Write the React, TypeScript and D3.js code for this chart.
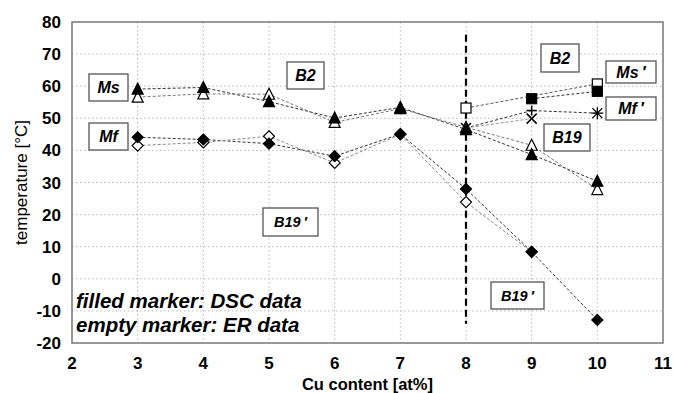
import React from "react";
import * as d3 from "d3";

// Cu content categories and measured transformation temperatures
const cuContent = [3, 4, 5, 6, 7, 8, 9, 10];
const msDSC = [59.1, 59.6, 55.2, 50.1, 53.4, 46.5, 38.7, 30.4];
const msER = [56.6, 57.6, 57.5, 48.7, 53.0, 47.2, 41.6, 27.8];
const mfDSC = [44.1, 43.4, 42.1, 38.2, 45.1, 28.0, 8.4, -12.8];
const mfER = [41.5, 42.5, 44.4, 36.1, 45.0, 23.9, 8.4];

const msPrimeDSCx = [9, 10];
const msPrimeDSC = [56.1, 58.4];
const msPrimeERx = [8, 10];
const msPrimeER = [53.2, 60.7];
const mfPrimeAx = [8, 9, 10];
const mfPrimeA = [47.0, 52.4, 51.6];
const mfPrimeBx = [8, 9];
const mfPrimeB = [47.0, 49.9];

const xTicks = [2, 3, 4, 5, 6, 7, 8, 9, 10, 11];
const yTicks = [-20, -10, 0, 10, 20, 30, 40, 50, 60, 70, 80];

const W = 673;
const H = 393;
const m = { left: 72, right: 663, top: 22, bottom: 343 };

type Pt = { x: number; y: number };
const zip = (xs: number[], ys: number[]): Pt[] => ys.map((y, i) => ({ x: xs[i], y }));

const App: React.FC = () => {
  const x = d3.scaleLinear().domain([2, 11]).range([m.left, m.right]);
  const y = d3.scaleLinear().domain([-20, 80]).range([m.bottom, m.top]);
  const line = d3.line<Pt>().x((d) => x(d.x)).y((d) => y(d.y));
  const font = "'Liberation Sans', Arial, sans-serif";

  const tri = (d: Pt, filled: boolean, k: string) => {
    const cx = x(d.x), cy = y(d.y);
    return (
      <path key={k} d={`M${cx},${cy - 6}L${cx + 5.5},${cy + 5}L${cx - 5.5},${cy + 5}Z`}
        fill={filled ? "#000" : "#fff"} stroke="#000" strokeWidth={1.2} />
    );
  };
  const dia = (d: Pt, filled: boolean, k: string) => {
    const cx = x(d.x), cy = y(d.y);
    return (
      <path key={k} d={`M${cx},${cy - 5.5}L${cx + 5.5},${cy}L${cx},${cy + 5.5}L${cx - 5.5},${cy}Z`}
        fill={filled ? "#000" : "#fff"} stroke="#000" strokeWidth={1.2} />
    );
  };
  const sq = (d: Pt, filled: boolean, k: string) => {
    const cx = x(d.x), cy = y(d.y);
    return (
      <rect key={k} x={cx - 5} y={cy - 5} width={10} height={10}
        fill={filled ? "#000" : "#fff"} stroke="#000" strokeWidth={1.2} />
    );
  };
  const cross = (d: Pt, k: string) => {
    const cx = x(d.x), cy = y(d.y);
    return (
      <path key={k} d={`M${cx - 5},${cy - 5}L${cx + 5},${cy + 5}M${cx + 5},${cy - 5}L${cx - 5},${cy + 5}`}
        stroke="#000" strokeWidth={1.5} fill="none" />
    );
  };
  const plus = (d: Pt, k: string) => {
    const cx = x(d.x), cy = y(d.y);
    return (
      <path key={k} d={`M${cx - 5},${cy}L${cx + 5},${cy}M${cx},${cy - 5}L${cx},${cy + 5}`}
        stroke="#000" strokeWidth={1.5} fill="none" />
    );
  };
  const star = (d: Pt, k: string) => {
    const cx = x(d.x), cy = y(d.y);
    return (
      <path key={k}
        d={`M${cx - 5},${cy - 5}L${cx + 5},${cy + 5}M${cx + 5},${cy - 5}L${cx - 5},${cy + 5}M${cx},${cy - 6}L${cx},${cy + 6}M${cx - 6},${cy}L${cx + 6},${cy}`}
        stroke="#000" strokeWidth={1.3} fill="none" />
    );
  };

  const ms1 = zip(cuContent, msDSC);
  const ms2 = zip(cuContent, msER);
  const mf1 = zip(cuContent, mfDSC);
  const mf2 = zip(cuContent, mfER);
  const mp1 = zip(msPrimeDSCx, msPrimeDSC);
  const mp2 = zip(msPrimeERx, msPrimeER);
  const fa = zip(mfPrimeAx, mfPrimeA);
  const fb = zip(mfPrimeBx, mfPrimeB);

  const box = (label: string, x0: number, y0: number, w: number, h: number, size: number) => (
    <g key={label + x0}>
      <rect x={x0} y={y0} width={w} height={h} fill="#fff" stroke="#555" strokeWidth={1.3} />
      <text x={x0 + w / 2} y={y0 + h / 2 + size * 0.36} textAnchor="middle" fontSize={size}
        fontWeight="bold" fontStyle="italic" fontFamily={font}>{label}</text>
    </g>
  );

  return (
    <svg width={W} height={H} style={{ position: "absolute", left: 0, top: 0, background: "#fff" }}>
      {/* grid */}
      {yTicks.slice(1, -1).map((t) => (
        <line key={"gy" + t} x1={m.left} x2={m.right} y1={y(t)} y2={y(t)} stroke="#bbb" strokeDasharray="1.5,2.5" />
      ))}
      {xTicks.slice(1, -1).map((t) => (
        <line key={"gx" + t} y1={m.top} y2={m.bottom} x1={x(t)} x2={x(t)} stroke="#bbb" strokeDasharray="1.5,2.5" />
      ))}
      <rect x={m.left} y={m.top} width={m.right - m.left} height={m.bottom - m.top} fill="none" stroke="#777" strokeWidth={1.5} />

      {/* tick labels */}
      {yTicks.map((t) => (
        <text key={"ty" + t} x={61} y={y(t) + 6} textAnchor="end" fontSize={17} fontWeight="bold" fontFamily={font}>{t}</text>
      ))}
      {xTicks.map((t) => (
        <text key={"tx" + t} x={x(t)} y={369} textAnchor="middle" fontSize={17} fontWeight="bold" fontFamily={font}>{t}</text>
      ))}
      <text x={(m.left + m.right) / 2} y={390} textAnchor="middle" fontSize={16.5} fontWeight="bold" fontFamily={font}>Cu content [at%]</text>
      <text transform={`translate(27,${(m.top + m.bottom) / 2}) rotate(-90)`} textAnchor="middle" fontSize={17} fontFamily={font}>temperature [°C]</text>

      {/* phase boundary */}
      <line x1={x(8)} x2={x(8)} y1={y(76)} y2={y(-14)} stroke="#000" strokeWidth={2.2} strokeDasharray="7,4" />

      {/* series lines */}
      <g fill="none" strokeWidth={1} strokeDasharray="3,2">
        <path d={line(ms1) ?? ""} stroke="#333" />
        <path d={line(ms2) ?? ""} stroke="#777" />
        <path d={line(mf1) ?? ""} stroke="#333" />
        <path d={line(mf2) ?? ""} stroke="#888" />
        <path d={line(mp1) ?? ""} stroke="#333" />
        <path d={line(mp2) ?? ""} stroke="#555" />
        <path d={line(fa) ?? ""} stroke="#333" />
        <path d={line(fb) ?? ""} stroke="#999" />
      </g>

      {/* markers */}
      {ms2.map((d, i) => tri(d, false, "msE" + i))}
      {ms1.map((d, i) => tri(d, true, "msD" + i))}
      {mf2.map((d, i) => dia(d, false, "mfE" + i))}
      {mf1.map((d, i) => dia(d, true, "mfD" + i))}
      {mp2.map((d, i) => sq(d, false, "mpE" + i))}
      {mp1.map((d, i) => sq(d, true, "mpD" + i))}
      {fb.map((d, i) => cross(d, "fb" + i))}
      {plus(fa[1], "fa1")}
      {star(fa[2], "fa2")}

      {/* phase / temperature labels */}
      {box("Ms", 89, 74, 39, 27, 16)}
      {box("Mf", 89, 123, 39, 27, 16)}
      {box("B2", 287, 62, 37, 27, 16)}
      {box("B2", 541, 44, 38, 28, 16)}
      {box("Ms\u2009\u2032", 606, 61, 50, 22, 16)}
      {box("Mf\u2009\u2032", 606, 97, 50, 23, 16)}
      {box("B19", 544, 124, 46, 27, 16)}
      {box("B19\u2009\u2032", 263, 208, 55, 28, 14.5)}
      {box("B19\u2009\u2032", 491, 282, 53, 27, 14.5)}

      <text x={76} y={308} fontSize={20.5} fontWeight="bold" fontStyle="italic" fontFamily={font}>filled marker: DSC data</text>
      <text x={76} y={332} fontSize={20.5} fontWeight="bold" fontStyle="italic" fontFamily={font}>empty marker: ER data</text>
    </svg>
  );
};

export default App;
